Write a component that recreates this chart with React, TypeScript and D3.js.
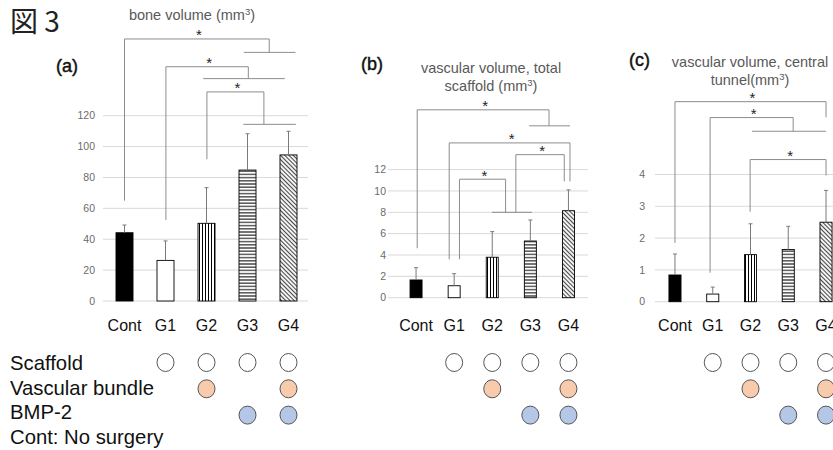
import React from "react";
import * as d3 from "d3";

// groups and bar fills
const groups = ["Cont", "G1", "G2", "G3", "G4"];
const fills = ["black", "white", "url(#vert)", "url(#horiz)", "url(#diag)"];

// (a) bone volume
const boneMean = [44.2, 26.3, 50.3, 84.8, 94.6];
const boneUpper = [49.2, 38.9, 73.4, 108.3, 109.9];
const boneTicks = [0, 20, 40, 60, 80, 100, 120];
// brackets: x in group index, y in data units
const boneBrackets = [
  { x1: 0, y1: 65, x2: 3.53, y2: 161, top: 169.7 },
  { x1: 1.01, y1: 52.5, x2: 3.02, y2: 144, top: 151.7 },
  { x1: 2.01, y1: 91.8, x2: 3.4, y2: 114.4, top: 135.4 },
];
const boneSpans = [
  { x1: 2.91, x2: 4.17, y: 161 },
  { x1: 1.92, x2: 3.91, y: 144 },
  { x1: 2.9, x2: 4.18, y: 114.4 },
];

// (b) vascular volume, total scaffold
const totalMean = [1.66, 1.12, 3.79, 5.31, 8.15];
const totalUpper = [2.81, 2.25, 6.19, 7.28, 10.1];
const totalTicks = [0, 2, 4, 6, 8, 10, 12];
const totalBrackets = [
  { x1: 0.03, y1: 4.63, x2: 3.49, y2: 16.1, top: 17.6 },
  { x1: 0.87, y1: 3.6, x2: 4.04, y2: 10.9, top: 14.5 },
  { x1: 2.62, y1: 8.0, x2: 3.89, y2: 10.9, top: 13.4 },
  { x1: 1.14, y1: 3.6, x2: 2.35, y2: 8.0, top: 11.1 },
];
const totalSpans = [
  { x1: 2.97, x2: 4.04, y: 16.1 },
  { x1: 1.99, x2: 3.04, y: 8.0 },
];

// (c) vascular volume, central tunnel
const tunnelMean = [0.84, 0.24, 1.48, 1.64, 2.5];
const tunnelUpper = [1.5, 0.46, 2.45, 2.37, 3.5];
const tunnelTicks = [0, 1, 2, 3, 4];
const tunnelBrackets = [
  { x1: 0, y1: 1.85, x2: 4.0, y2: 5.8, top: 6.29 },
  { x1: 0.93, y1: 0.91, x2: 3.13, y2: 5.36, top: 5.79 },
  { x1: 1.99, y1: 2.83, x2: 4.0, y2: 3.97, top: 4.47 },
];
const tunnelSpans = [{ x1: 2.04, x2: 4.0, y: 5.36 }];

// treatment table
const rowLabels = ["Scaffold", "Vascular bundle", "BMP-2"];
const rowMarks = [
  [0, 1, 1, 1, 1],
  [0, 0, 1, 0, 1],
  [0, 0, 0, 1, 1],
];
const rowColors = ["white", "#f8cbad", "#b4c7e7"];

const panels = [
  {
    label: "(a)", title: ["bone volume (mm", "3", ")"], titleLines: null,
    mean: boneMean, upper: boneUpper, ticks: boneTicks, max: 120,
    brackets: boneBrackets, spans: boneSpans,
    x0: 104, x1: 309, yb: 301, yt: 115.7, pad: 0.585, gx0: 103, gx1: 308, tickX: 95,
    lx: 56, ly: 72, tx: 192, ty: 20,
  },
  {
    label: "(b)", title: ["scaffold (mm", "3", ")"], titleLines: "vascular volume, total",
    mean: totalMean, upper: totalUpper, ticks: totalTicks, max: 12,
    brackets: totalBrackets, spans: totalSpans,
    x0: 397, x1: 587.5, yb: 297.7, yt: 169.6, pad: 0.685, gx0: 388, gx1: 588, tickX: 386,
    lx: 361, ly: 70, tx: 491, ty: 91,
  },
  {
    label: "(c)", title: ["tunnel(mm", "3", ")"], titleLines: "vascular volume, central",
    mean: tunnelMean, upper: tunnelUpper, ticks: tunnelTicks, max: 4,
    brackets: tunnelBrackets, spans: tunnelSpans,
    x0: 656.1, x1: 844.9, yb: 301.7, yt: 174.5, pad: 0.68, gx0: 655, gx1: 845, tickX: 645,
    lx: 629, ly: 66, tx: 750, ty: 85,
  },
];

const font = "'Liberation Sans', Arial, sans-serif";
const lineGray = "#8c8c8c";

const Panel = ({ p }: { p: any }) => {
  const x = d3.scaleBand().domain(groups).range([p.x0, p.x1])
    .paddingInner(p.pad).paddingOuter(p.pad / 2);
  const xi = d3.scaleLinear().domain([-0.5, groups.length - 0.5]).range([p.x0, p.x1]);
  const y = d3.scaleLinear().domain([0, p.max]).range([p.yb, p.yt]);
  const bw = x.bandwidth();

  return (
    <g>
      {/* gridlines and tick labels */}
      {p.ticks.map((t: number) => (
        <g key={t}>
          <line x1={p.gx0} x2={p.gx1} y1={y(t)} y2={y(t)} stroke="#d9d9d9" strokeWidth={1} />
          <text x={p.tickX} y={y(t)} dy="0.35em" textAnchor="end" fontSize={10.5} fill="#6b6b6b">{t}</text>
        </g>
      ))}

      {/* bars */}
      {groups.map((g, i) => (
        <rect key={g} x={x(g)} y={y(p.mean[i])} width={bw} height={y(0) - y(p.mean[i])}
          fill={fills[i]} stroke="black" strokeWidth={0.9} />
      ))}

      {/* error bars */}
      {groups.map((g, i) => {
        const cx = (x(g) as number) + bw / 2;
        return (
          <g key={g} stroke="#7a7a7a" strokeWidth={1}>
            <line x1={cx} x2={cx} y1={y(p.mean[i])} y2={y(p.upper[i])} />
            <line x1={cx - 2} x2={cx + 2} y1={y(p.upper[i])} y2={y(p.upper[i])} />
          </g>
        );
      })}

      {/* significance brackets */}
      {p.brackets.map((b: any, i: number) => (
        <g key={i}>
          <path fill="none" stroke={lineGray} strokeWidth={1}
            d={`M${xi(b.x1)},${y(b.y1)}V${y(b.top)}H${xi(b.x2)}V${y(b.y2)}`} />
          <text x={xi((b.x1 + b.x2) / 2) + 2} y={y(b.top) + 1.5} textAnchor="middle" fontSize={15} fill="#222">*</text>
        </g>
      ))}
      {p.spans.map((s: any, i: number) => (
        <line key={i} x1={xi(s.x1)} x2={xi(s.x2)} y1={y(s.y)} y2={y(s.y)} stroke={lineGray} strokeWidth={1} />
      ))}

      {/* category labels */}
      {groups.map((g) => (
        <text key={g} x={(x(g) as number) + bw / 2} y={331} textAnchor="middle" fontSize={16} fill="#111">{g}</text>
      ))}

      {/* panel label and title */}
      <text x={p.lx} y={p.ly} fontSize={18} fill="#111" stroke="#111" strokeWidth={0.45}>{p.label}</text>
      {p.titleLines && (
        <text x={p.tx} y={p.ty - 18} textAnchor="middle" fontSize={14.5} fill="#595959">{p.titleLines}</text>
      )}
      <text x={p.tx} y={p.ty} textAnchor="middle" fontSize={14.5} fill="#595959">
        {p.title[0]}<tspan fontSize={9.5} dy={-5.5}>{p.title[1]}</tspan><tspan dy={5.5}>{p.title[2]}</tspan>
      </text>

      {/* treatment circles */}
      {rowMarks.map((row, r) =>
        row.map((m, i) => m ? (
          <ellipse key={`${r}-${i}`} cx={xi(i)} cy={362.5 + r * 26.3} rx={8.5} ry={9}
            fill={rowColors[r]} stroke="#555" strokeWidth={1} />
        ) : null)
      )}
    </g>
  );
};

const App = () => {
  return (
    <svg width={833} height={450} style={{ position: "absolute", left: 0, top: 0 }} fontFamily={font}>
      <defs>
        <pattern id="vert" width={3} height={3} patternUnits="userSpaceOnUse">
          <rect width={3} height={3} fill="white" />
          <line x1={1.5} y1={0} x2={1.5} y2={3} stroke="black" strokeWidth={1} />
        </pattern>
        <pattern id="horiz" width={3} height={3.2} patternUnits="userSpaceOnUse">
          <rect width={3} height={3.2} fill="white" />
          <line x1={0} y1={1.6} x2={3} y2={1.6} stroke="black" strokeWidth={1} />
        </pattern>
        <pattern id="diag" width={3} height={3} patternUnits="userSpaceOnUse" patternTransform="rotate(45)">
          <rect width={3} height={3} fill="#f2f2f2" />
          <line x1={0} y1={1.5} x2={3} y2={1.5} stroke="#333" strokeWidth={0.9} />
        </pattern>
      </defs>
      <rect width={833} height={450} fill="white" />

      <text x={10} y={32} fontSize={28} fontFamily="'Noto Sans CJK JP', sans-serif" fill="#222">図 3</text>

      {panels.map((p) => <Panel key={p.label} p={p} />)}

      {rowLabels.map((l, r) => (
        <text key={l} x={10} y={370 + r * 24.7} fontSize={20.3} fill="#111">{l}</text>
      ))}
      <text x={10} y={444} fontSize={20.3} fill="#111">Cont: No surgery</text>
    </svg>
  );
};

export default App;
